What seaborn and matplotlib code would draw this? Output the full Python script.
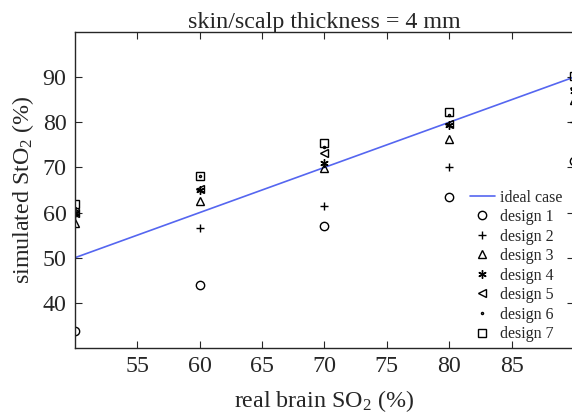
import pandas as pd
import seaborn as sns
import matplotlib.pyplot as plt

# real brain SO2 levels (%)
real_so2 = [50, 60, 70, 80, 90]

# simulated StO2 (%) for each design
design1 = [33.8, 44.0, 57.0, 63.4, 71.5]
design2 = [59.5, 56.5, 61.5, 70.0, 80.0]
design3 = [57.6, 62.6, 69.8, 76.2, 85.0]
design4 = [59.8, 65.0, 70.9, 79.5, 87.0]
design5 = [60.0, 65.3, 73.3, 79.7, 87.5]
design6 = [61.0, 68.0, 74.5, 81.5, 90.0]
design7 = [62.0, 68.2, 75.3, 82.2, 90.2]

designs = [design1, design2, design3, design4, design5, design6, design7]
labels = ['design %d' % (i + 1) for i in range(7)]
markers = ['o', '+', '^', (6, 2, 0), '<', '.', 's']

sns.set_style('ticks')
plt.rcParams['font.family'] = ['Liberation Serif', 'DejaVu Serif']
plt.rcParams['mathtext.fontset'] = 'custom'
plt.rcParams['mathtext.rm'] = 'Liberation Serif'
plt.rcParams['mathtext.it'] = 'Liberation Serif:italic'

fig = plt.figure(figsize=(5.72, 4.15), dpi=100)
ax = fig.add_axes([0.131, 0.1614, 0.8725, 0.7616])

ideal = pd.DataFrame({'x': real_so2, 'y': real_so2})
sns.lineplot(x='x', y='y', data=ideal, ax=ax, color='#5566f0', lw=1.2,
             label='ideal case', estimator=None)

for vals, lab, m in zip(designs, labels, markers):
    df = pd.DataFrame({'x': real_so2, 'y': vals})
    ms = 3 if m == '.' else 6
    sns.lineplot(x='x', y='y', data=df, ax=ax, estimator=None, linestyle='',
                 marker=m, markersize=ms, markerfacecolor='none',
                 markeredgecolor='k', markeredgewidth=1.0, color='k', label=lab)

ax.set_xlim(50, 90)
ax.set_ylim(30, 100)
ax.set_xticks([55, 60, 65, 70, 75, 80, 85])
ax.set_yticks([40, 50, 60, 70, 80, 90])
ax.tick_params(direction='in', length=5, width=0.8, top=True, right=True,
               labelsize=17.3, pad=6)
for s in ax.spines.values():
    s.set_linewidth(1.0)

ax.set_title('skin/scalp thickness = 4 mm', fontsize=17.3, pad=3)
ax.set_xlabel('real brain SO$_2$ (%)', fontsize=17.3, labelpad=8)
ax.set_ylabel('simulated StO$_2$ (%)', fontsize=17.3, labelpad=5)

ax.legend(loc='upper left', bbox_to_anchor=(0.796, 0.578),
          bbox_transform=fig.transFigure, frameon=False, fontsize=11.5,
          handlelength=1.6, handletextpad=0.3, labelspacing=0.22,
          borderpad=0.4)

fig.savefig('out.png', dpi=100)
